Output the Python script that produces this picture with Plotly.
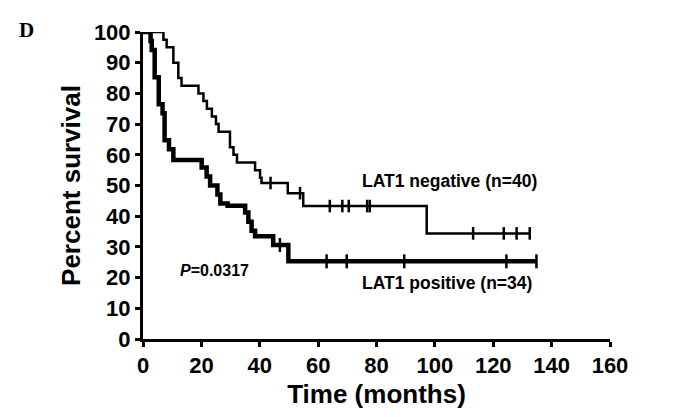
import plotly.graph_objects as go

# ---- data (Kaplan-Meier steps) ----
neg_time = [0, 7.0, 8.1, 10.4, 12.1, 13.2, 19.0, 20.7, 21.9, 23.6, 25.0, 25.9,
            29.8, 31.0, 32.2, 38.4, 40.1, 40.6, 49.6, 54.9, 97.2, 132.5]
neg_surv = [100, 97.5, 95, 90, 85, 82.5, 80, 77.5, 75, 72.5, 70, 67.5,
            62.5, 60, 57.5, 55, 52.5, 50.8, 47.5, 43.3, 34.4, 34.4]
neg_censor = [43.7, 53.8, 64.0, 68.3, 70.5, 76.8, 77.7, 113.1, 123.6, 128.0, 132.5]

pos_time = [0, 2.6, 3.0, 4.0, 5.4, 6.7, 7.4, 8.9, 10.4, 20.1, 21.8, 23.0,
            25.5, 26.5, 29.0, 35.0, 36.1, 37.2, 38.4, 44.6, 49.8, 134.8]
pos_surv = [100, 97.1, 94.1, 85.3, 76.5, 73.5, 64.7, 61.8, 58.3, 55.9, 52.9, 50.0,
            47.1, 44.1, 43.4, 41.2, 38.2, 35.3, 33.5, 30.6, 25.3, 25.3]
pos_censor = [46.9, 62.9, 69.8, 89.5, 124.5, 134.8]

x_ticks = [0, 20, 40, 60, 80, 100, 120, 140, 160]
y_ticks = [0, 10, 20, 30, 40, 50, 60, 70, 80, 90, 100]

FONT = "Liberation Sans"


def level(times, survs, t):
    s = survs[0]
    for ti, si in zip(times, survs):
        if ti <= t:
            s = si
    return s


fig = go.Figure()

fig.add_trace(go.Scatter(x=neg_time, y=neg_surv, mode="lines", line_shape="hv",
                         line=dict(color="black", width=2.5), cliponaxis=False,
                         showlegend=False))
fig.add_trace(go.Scatter(x=neg_censor, y=[level(neg_time, neg_surv, t) for t in neg_censor],
                         mode="markers", cliponaxis=False, showlegend=False,
                         marker=dict(symbol="line-ns", size=9,
                                     line=dict(color="black", width=2.5))))
fig.add_trace(go.Scatter(x=pos_time, y=pos_surv, mode="lines", line_shape="hv",
                         line=dict(color="black", width=4.5), cliponaxis=False,
                         showlegend=False))
fig.add_trace(go.Scatter(x=pos_censor, y=[level(pos_time, pos_surv, t) for t in pos_censor],
                         mode="markers", cliponaxis=False, showlegend=False,
                         marker=dict(symbol="line-ns", size=10,
                                     line=dict(color="black", width=2.5))))

ann_font = dict(family=FONT, size=17.5, color="black", weight="bold")
fig.add_annotation(x=74.5, y=51.5, text="LAT1 negative (n=40)", showarrow=False,
                   xanchor="left", yanchor="middle", font=ann_font)
fig.add_annotation(x=74.5, y=18.3, text="LAT1 positive (n=34)", showarrow=False,
                   xanchor="left", yanchor="middle", font=ann_font)
fig.add_annotation(x=12, y=22.2, text="<i>P</i>=0.0317", showarrow=False,
                   xanchor="left", yanchor="middle",
                   font=dict(family=FONT, size=16, color="black", weight="bold"))
fig.add_annotation(xref="x domain", yref="y domain", x=-126 / 467, y=(340 - 27) / 311,
                   text="D", showarrow=False, xanchor="left", yanchor="middle",
                   font=dict(family="Liberation Serif", size=21, color="black",
                             weight="bold"))

axis_common = dict(showline=True, linecolor="black", linewidth=3, ticks="outside",
                   ticklen=5, tickwidth=3, tickcolor="black", showgrid=False,
                   zeroline=False, mirror=False,
                   tickfont=dict(family=FONT, size=22, color="black", weight="bold"))

fig.update_xaxes(range=[0, 160], tickvals=x_ticks, ticktext=[str(v) for v in x_ticks],
                 title=dict(text="Time (months)", standoff=8,
                            font=dict(family=FONT, size=26, color="black", weight="bold")),
                 **axis_common)
fig.update_yaxes(range=[0, 100], tickvals=y_ticks, ticktext=[str(v) for v in y_ticks],
                 title=dict(text="Percent survival", standoff=6,
                            font=dict(family=FONT, size=26, color="black", weight="bold")),
                 **axis_common)

# page body has an 8px default margin: figure is 680x409 so it fills 688x417
fig.update_layout(width=680, height=409, plot_bgcolor="white", paper_bgcolor="white",
                  margin=dict(l=135, r=78, t=21, b=69))

fig.write_html("out.html")
